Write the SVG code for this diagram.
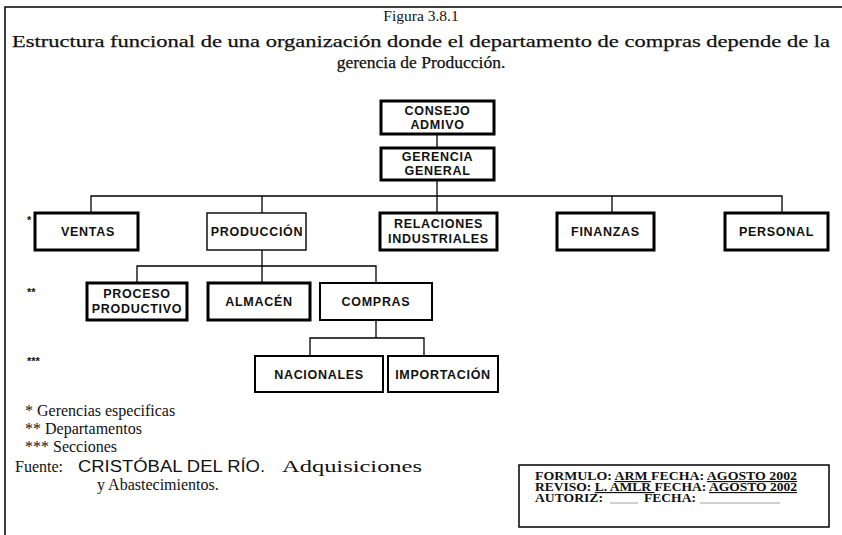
<svg xmlns="http://www.w3.org/2000/svg" width="842" height="535" viewBox="0 0 842 535">
<style>
.bg{fill:#fff}
.frame{stroke:#000;stroke-width:1.5;fill:none}
.bx{fill:#fff;stroke:#000;stroke-width:3}
.bxm{fill:#fff;stroke:#000;stroke-width:2}
.bxt{fill:#fff;stroke:#000;stroke-width:1.4}
.ln{stroke:#000;stroke-width:1.3;fill:none}
.lbl{font-family:"Liberation Sans",Arial,sans-serif;font-weight:bold;font-size:12.5px;letter-spacing:0.7px;text-anchor:middle;fill:#111}
.ser{font-family:"Liberation Serif","Times New Roman",serif;fill:#111}
.ttl{stroke:#111;stroke-width:0.25}
.sans{font-family:"Liberation Sans",Arial,sans-serif;fill:#111}
.sig{font-family:"Liberation Serif","Times New Roman",serif;font-weight:bold;font-size:11.5px;fill:#111}
.star{font-family:"Liberation Sans",Arial,sans-serif;font-weight:bold;font-size:11px;fill:#111}
</style>
<rect class="bg" x="0" y="0" width="842" height="535"/>
<path class="frame" d="M5,535 V7 H842"/>

<text class="ser" x="421" y="21" font-size="15.5" text-anchor="middle">Figura 3.8.1</text>
<text class="ser ttl" x="12" y="47" font-size="17" textLength="818" lengthAdjust="spacingAndGlyphs">Estructura funcional de una organización donde el departamento de compras depende de la</text>
<text class="ser ttl" x="421" y="68" font-size="17.5" text-anchor="middle">gerencia de Producción.</text>

<g id="connectors">
<path class="ln" d="M437,134 V148"/>
<path class="ln" d="M437,180 V196"/>
<path class="ln" d="M91,213 V196 H782 V213"/>
<path class="ln" d="M262,196 V213"/>
<path class="ln" d="M437,196 V213"/>
<path class="ln" d="M612,196 V213"/>
<path class="ln" d="M262,250 V283"/>
<path class="ln" d="M137,283 V266 H376 V283"/>
<path class="ln" d="M376,320 V338"/>
<path class="ln" d="M310,356 V338 H424 V356"/>
</g>

<g id="consejo"><rect class="bx" x="381" y="101" width="113" height="33"/><text class="lbl" x="437.5" y="115">CONSEJO</text><text class="lbl" x="437.5" y="129">ADMIVO</text></g>
<g id="gerencia"><rect class="bx" x="381" y="148" width="113" height="32"/><text class="lbl" x="437.5" y="161">GERENCIA</text><text class="lbl" x="437.5" y="175">GENERAL</text></g>

<g id="ventas"><rect class="bx" x="35" y="213" width="103" height="37"/><text class="lbl" x="88" y="236">VENTAS</text></g>
<g id="produccion"><rect class="bxt" x="207" y="213" width="99" height="37"/><text class="lbl" x="257" y="236" letter-spacing="0.2">PRODUCCIÓN</text></g>
<g id="relaciones"><rect class="bx" x="380" y="213" width="117" height="37"/><text class="lbl" x="438.5" y="228">RELACIONES</text><text class="lbl" x="438.5" y="243">INDUSTRIALES</text></g>
<g id="finanzas"><rect class="bx" x="557" y="213" width="97" height="37"/><text class="lbl" x="605.5" y="236">FINANZAS</text></g>
<g id="personal"><rect class="bx" x="725" y="213" width="103" height="37"/><text class="lbl" x="776.5" y="236">PERSONAL</text></g>

<g id="proceso"><rect class="bx" x="87" y="283" width="100" height="37"/><text class="lbl" x="137" y="298">PROCESO</text><text class="lbl" x="137" y="313" letter-spacing="0.3">PRODUCTIVO</text></g>
<g id="almacen"><rect class="bx" x="208" y="283" width="102" height="37"/><text class="lbl" x="259" y="306">ALMACÉN</text></g>
<g id="compras"><rect class="bxm" x="320" y="283" width="112" height="37"/><text class="lbl" x="376" y="306">COMPRAS</text></g>

<g id="nacionales"><rect class="bxm" x="255" y="356" width="128" height="36"/><text class="lbl" x="319" y="379">NACIONALES</text></g>
<g id="importacion"><rect class="bxm" x="388" y="356" width="110" height="36"/><text class="lbl" x="443" y="379" letter-spacing="0.4">IMPORTACIÓN</text></g>

<g id="levels">
<text class="star" x="27" y="224">*</text>
<text class="star" x="27" y="296">**</text>
<text class="star" x="27" y="365">***</text>
</g>

<g id="legend">
<text class="ser" x="25" y="416" font-size="16">* Gerencias especificas</text>
<text class="ser" x="25" y="434" font-size="16">** Departamentos</text>
<text class="ser" x="25" y="452" font-size="16">*** Secciones</text>
<text class="ser" x="15" y="472" font-size="16">Fuente:</text>
<text class="sans" x="78" y="472" font-size="16" textLength="187" lengthAdjust="spacingAndGlyphs">CRISTÓBAL DEL RÍO.</text>
<text class="ser" x="282" y="472" font-size="17" textLength="140" lengthAdjust="spacingAndGlyphs">Adquisiciones</text>
<text class="ser" x="97" y="490" font-size="16">y Abastecimientos.</text>
</g>

<g id="firmas">
<rect class="frame" x="519" y="465" width="310" height="62"/>
<text class="sig" x="535" y="480" textLength="262" lengthAdjust="spacingAndGlyphs">FORMULO: <tspan text-decoration="underline">ARM </tspan> FECHA: <tspan text-decoration="underline">AGOSTO 2002</tspan></text>
<text class="sig" x="535" y="491" textLength="262" lengthAdjust="spacingAndGlyphs">REVISO: <tspan text-decoration="underline">L. AMLR </tspan> FECHA: <tspan text-decoration="underline">AGOSTO 2002</tspan></text>
<text class="sig" x="535" y="502" textLength="68" lengthAdjust="spacingAndGlyphs">AUTORIZ:</text>
<text class="sig" x="644" y="502" textLength="52" lengthAdjust="spacingAndGlyphs">FECHA:</text>
<path d="M610,503 H638 M700,503 H780" stroke="#888" stroke-width="0.8"/>
</g>
</svg>
